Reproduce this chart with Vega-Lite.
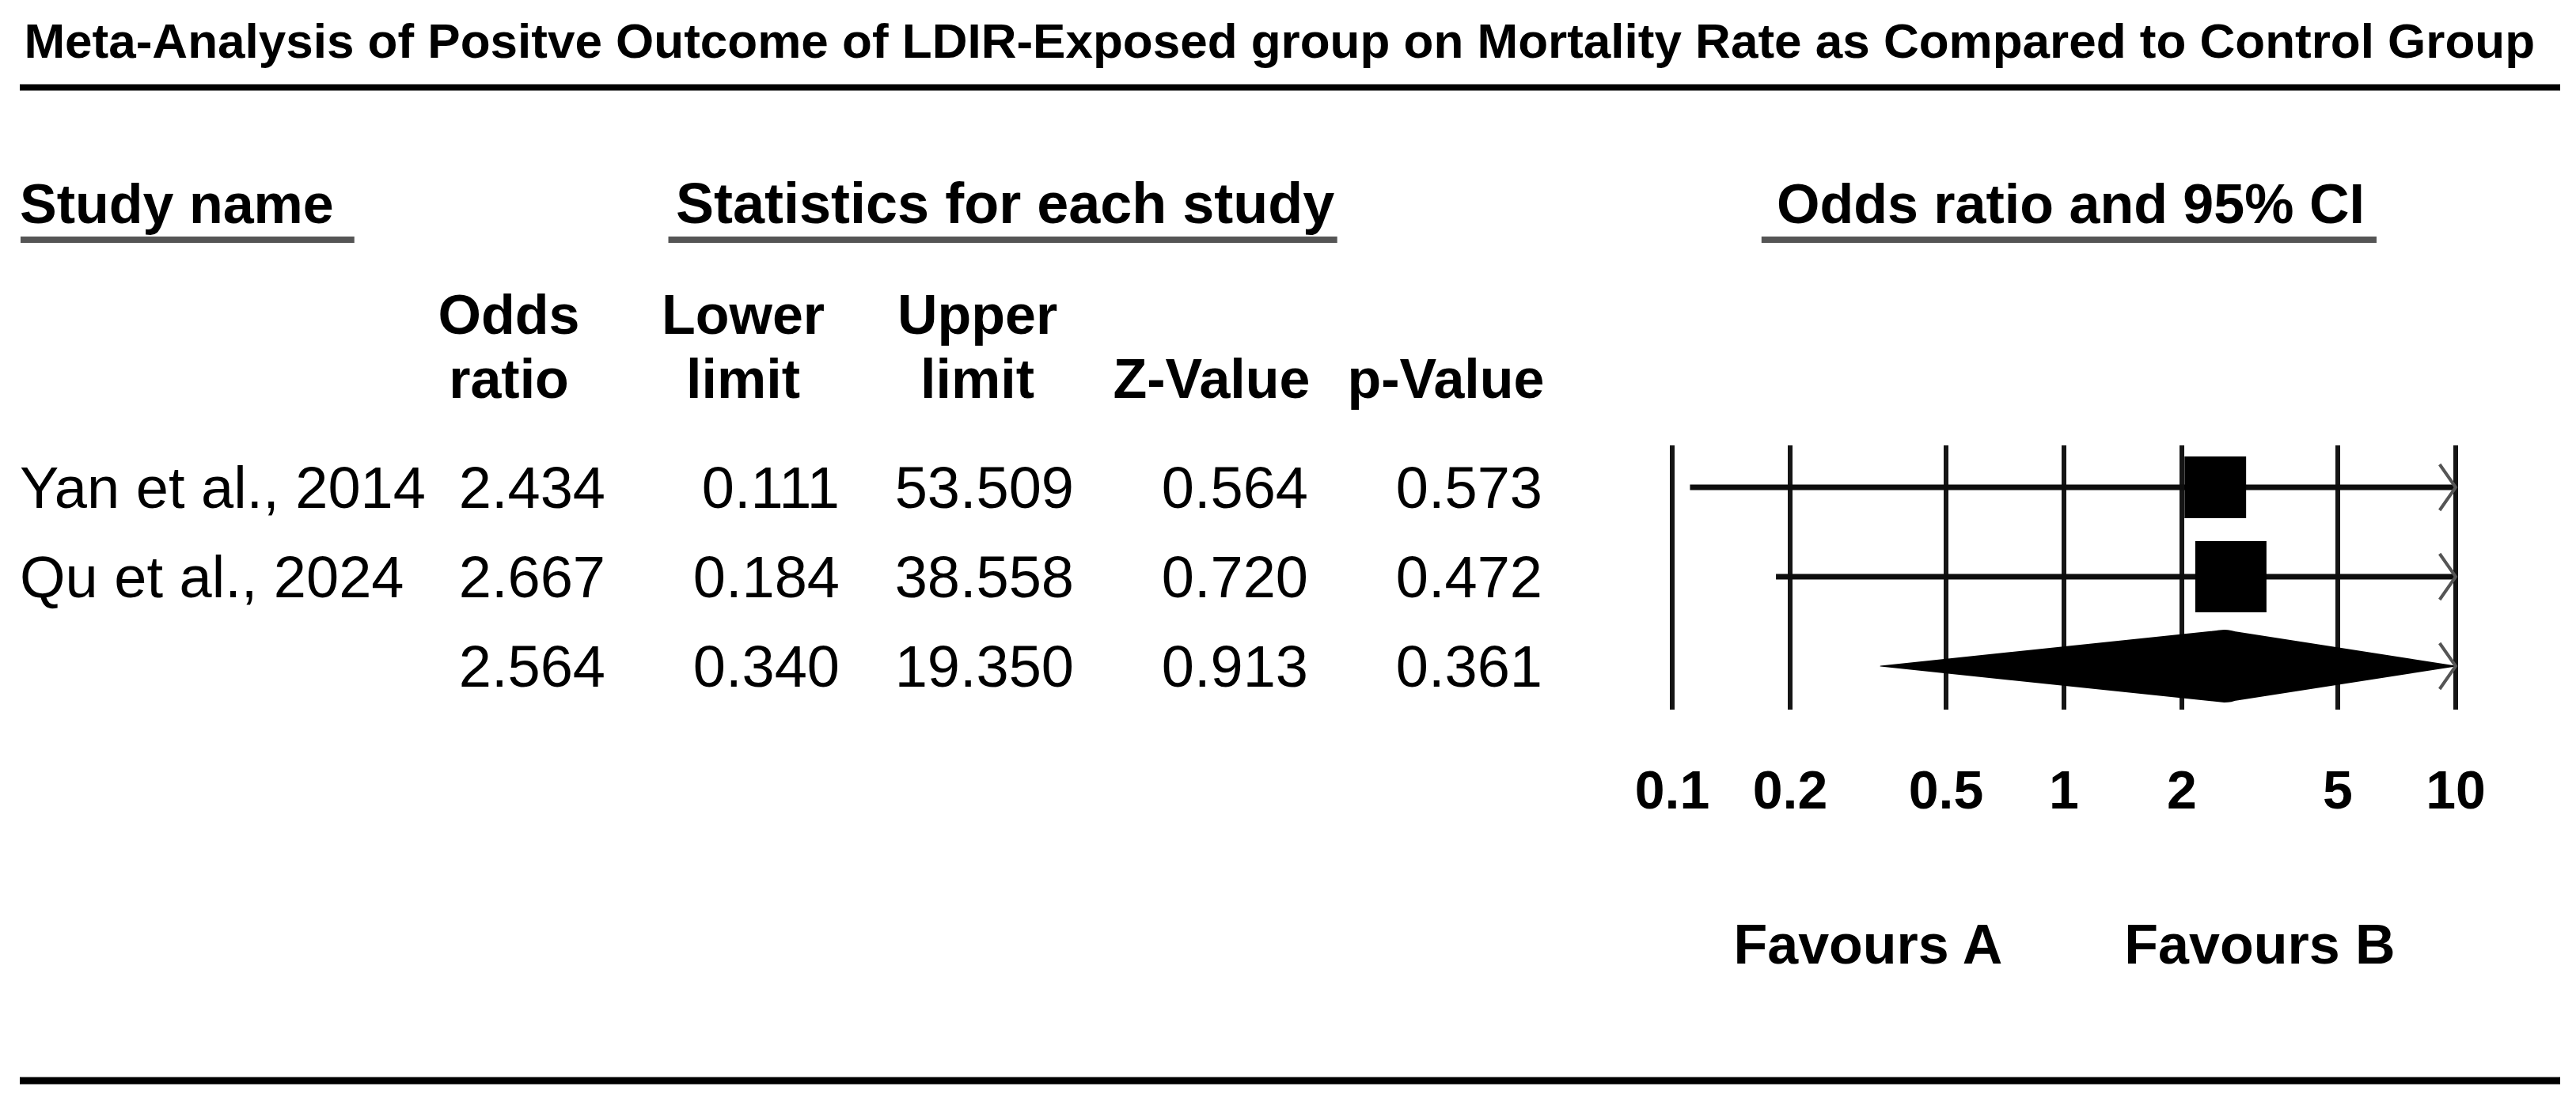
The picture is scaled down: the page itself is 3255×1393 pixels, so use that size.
{
  "$schema": "https://vega.github.io/schema/vega-lite/v6.json",
  "width": 3255,
  "height": 1393,
  "autosize": {"type": "fit", "contains": "padding"},
  "padding": {"left": 20, "right": 15, "top": 0, "bottom": 0},
  "background": "white",
  "config": {"view": {"stroke": null}, "text": {"font": "Liberation Sans", "color": "black"}},
  "datasets": {
    "studies": [
      {"study": "Yan et al., 2014", "row": 1, "type": "study", "or": 2.434, "lo": 0.111, "hi": 53.509, "z": 0.564, "p": 0.573, "weight": 42.8},
      {"study": "Qu et al., 2024", "row": 2, "type": "study", "or": 2.667, "lo": 0.184, "hi": 38.558, "z": 0.720, "p": 0.472, "weight": 57.2},
      {"study": "", "row": 3, "type": "overall", "or": 2.564, "lo": 0.340, "hi": 19.350, "z": 0.913, "p": 0.361}
    ],
    "ticks": [{"v": 0.1}, {"v": 0.2}, {"v": 0.5}, {"v": 1}, {"v": 2}, {"v": 5}, {"v": 10}],
    "headers": [
      {"col": "or", "l1": "Odds", "l2": "ratio"},
      {"col": "lo", "l1": "Lower", "l2": "limit"},
      {"col": "hi", "l1": "Upper", "l2": "limit"},
      {"col": "z", "l1": "", "l2": "Z-Value"},
      {"col": "p", "l1": "", "l2": "p-Value"}
    ]
  },
  "resolve": {"scale": {"x": "independent"}},
  "layer": [
    {
      "layer": [
        {
          "data": {"values": [{"t": "Meta-Analysis of Positve Outcome of LDIR-Exposed group on Mortality Rate as Compared to Control Group"}]},
          "mark": {"type": "text", "font": "Liberation Sans", "fontWeight": "bold", "fontSize": 62, "align": "left", "baseline": "alphabetic", "color": "black"},
          "encoding": {
            "x": {"datum": 0.17, "type": "quantitative", "scale": {"domain": [0, 100], "nice": false, "zero": false}, "axis": null},
            "y": {"datum": -3.805, "type": "quantitative", "scale": {"domain": [1, 3], "range": [616, 842], "nice": false, "zero": false}, "axis": null},
            "text": {"field": "t"}
          }
        },
        {
          "data": {"values": [{}]},
          "mark": {"type": "rule", "color": "black", "strokeWidth": 8},
          "encoding": {
            "y": {"datum": -3.473, "type": "quantitative", "scale": {"domain": [1, 3], "range": [616, 842], "nice": false, "zero": false}, "axis": null}
          }
        },
        {
          "data": {"values": [{"t": "Study name"}]},
          "mark": {"type": "text", "font": "Liberation Sans", "fontWeight": "bold", "fontSize": 70, "align": "left", "baseline": "alphabetic", "color": "black"},
          "encoding": {
            "x": {"datum": 0, "type": "quantitative", "scale": {"domain": [0, 100], "nice": false, "zero": false}, "axis": null},
            "y": {"datum": -1.956, "type": "quantitative", "scale": {"domain": [1, 3], "range": [616, 842], "nice": false, "zero": false}, "axis": null},
            "text": {"field": "t"}
          }
        },
        {
          "data": {"values": [{}]},
          "mark": {"type": "rule", "color": "#555555", "strokeWidth": 8},
          "encoding": {
            "x": {"datum": 0.03, "type": "quantitative", "scale": {"domain": [0, 100], "nice": false, "zero": false}, "axis": null},
            "x2": {"datum": 13.17},
            "y": {"datum": -1.77, "type": "quantitative", "scale": {"domain": [1, 3], "range": [616, 842], "nice": false, "zero": false}, "axis": null}
          }
        },
        {
          "data": {"values": [{"t": "Statistics for each study"}]},
          "mark": {"type": "text", "font": "Liberation Sans", "fontWeight": "bold", "fontSize": 72, "align": "center", "baseline": "alphabetic", "color": "black"},
          "encoding": {
            "x": {"datum": 38.79, "type": "quantitative", "scale": {"domain": [0, 100], "nice": false, "zero": false}, "axis": null},
            "y": {"datum": -1.956, "type": "quantitative", "scale": {"domain": [1, 3], "range": [616, 842], "nice": false, "zero": false}, "axis": null},
            "text": {"field": "t"}
          }
        },
        {
          "data": {"values": [{}]},
          "mark": {"type": "rule", "color": "#555555", "strokeWidth": 8},
          "encoding": {
            "x": {"datum": 25.53, "type": "quantitative", "scale": {"domain": [0, 100], "nice": false, "zero": false}, "axis": null},
            "x2": {"datum": 51.86},
            "y": {"datum": -1.77, "type": "quantitative", "scale": {"domain": [1, 3], "range": [616, 842], "nice": false, "zero": false}, "axis": null}
          }
        },
        {
          "data": {"name": "studies"},
          "mark": {"type": "text", "font": "Liberation Sans", "fontSize": 74, "align": "left", "baseline": "middle", "dy": 4, "color": "black"},
          "encoding": {
            "x": {"datum": 0, "type": "quantitative", "scale": {"domain": [0, 100], "nice": false, "zero": false}, "axis": null},
            "y": {"field": "row", "type": "quantitative", "scale": {"domain": [1, 3], "range": [616, 842], "nice": false, "zero": false}, "axis": null},
            "text": {"field": "study"}
          }
        },
        {
          "data": {"values": [{}]},
          "mark": {"type": "rule", "color": "black", "strokeWidth": 9},
          "encoding": {
            "y": {"datum": 7.637, "type": "quantitative", "scale": {"domain": [1, 3], "range": [616, 842], "nice": false, "zero": false}, "axis": null}
          }
        }
      ]
    },
    {
      "layer": [
        {
          "data": {"name": "studies"},
          "transform": [{"fold": ["or", "lo", "hi", "z", "p"], "as": ["col", "val"]}],
          "mark": {"type": "text", "font": "Liberation Sans", "fontSize": 74, "align": "right", "baseline": "middle", "dy": 4, "color": "black"},
          "encoding": {
            "x": {"field": "col", "type": "nominal", "scale": {"type": "point", "domain": ["or", "lo", "hi", "z", "p"], "range": [740, 1924], "padding": 0}, "axis": null},
            "y": {"field": "row", "type": "quantitative", "scale": {"domain": [1, 3], "range": [616, 842], "nice": false, "zero": false}, "axis": null},
            "text": {"field": "val", "type": "quantitative", "format": ".3f"}
          }
        },
        {
          "data": {"name": "headers"},
          "mark": {"type": "text", "font": "Liberation Sans", "fontWeight": "bold", "fontSize": 70, "align": "center", "baseline": "alphabetic", "dx": -122, "color": "black"},
          "encoding": {
            "x": {"field": "col", "type": "nominal", "scale": {"type": "point", "domain": ["or", "lo", "hi", "z", "p"], "range": [740, 1924], "padding": 0}, "axis": null},
            "y": {"datum": -0.717, "type": "quantitative", "scale": {"domain": [1, 3], "range": [616, 842], "nice": false, "zero": false}, "axis": null},
            "text": {"field": "l1"}
          }
        },
        {
          "data": {"name": "headers"},
          "mark": {"type": "text", "font": "Liberation Sans", "fontWeight": "bold", "fontSize": 70, "align": "center", "baseline": "alphabetic", "dx": -122, "color": "black"},
          "encoding": {
            "x": {"field": "col", "type": "nominal", "scale": {"type": "point", "domain": ["or", "lo", "hi", "z", "p"], "range": [740, 1924], "padding": 0}, "axis": null},
            "y": {"datum": 0, "type": "quantitative", "scale": {"domain": [1, 3], "range": [616, 842], "nice": false, "zero": false}, "axis": null},
            "text": {"field": "l2"}
          }
        }
      ]
    },
    {
      "layer": [
        {
          "data": {"name": "ticks"},
          "mark": {"type": "rule", "color": "#151515", "strokeWidth": 6},
          "encoding": {
            "x": {"field": "v", "type": "quantitative", "scale": {"type": "log", "domain": [0.1, 10], "range": [2088, 3078], "clamp": true, "nice": false}, "axis": null},
            "y": {"datum": 0.531, "type": "quantitative", "scale": {"domain": [1, 3], "range": [616, 842], "nice": false, "zero": false}, "axis": null},
            "y2": {"datum": 3.487}
          }
        },
        {
          "data": {"name": "ticks"},
          "mark": {"type": "text", "font": "Liberation Sans", "fontWeight": "bold", "fontSize": 68, "align": "center", "baseline": "alphabetic", "color": "black"},
          "encoding": {
            "x": {"field": "v", "type": "quantitative", "scale": {"type": "log", "domain": [0.1, 10], "range": [2088, 3078], "clamp": true, "nice": false}, "axis": null},
            "y": {"datum": 4.593, "type": "quantitative", "scale": {"domain": [1, 3], "range": [616, 842], "nice": false, "zero": false}, "axis": null},
            "text": {"field": "v", "type": "quantitative", "format": "~g"}
          }
        },
        {
          "data": {"name": "studies"},
          "transform": [{"filter": "datum.type === 'study'"}],
          "mark": {"type": "rule", "color": "#0d0d0d", "strokeWidth": 7},
          "encoding": {
            "x": {"field": "lo", "type": "quantitative", "scale": {"type": "log", "domain": [0.1, 10], "range": [2088, 3078], "clamp": true, "nice": false}, "axis": null},
            "x2": {"field": "hi"},
            "y": {"field": "row", "type": "quantitative", "scale": {"domain": [1, 3], "range": [616, 842], "nice": false, "zero": false}, "axis": null}
          }
        },
        {
          "data": {"name": "studies"},
          "transform": [{"filter": "datum.type === 'study'"}],
          "mark": {"type": "point", "shape": "square", "filled": true, "color": "black", "opacity": 1},
          "encoding": {
            "x": {"field": "or", "type": "quantitative", "scale": {"type": "log", "domain": [0.1, 10], "range": [2088, 3078], "clamp": true, "nice": false}, "axis": null},
            "y": {"field": "row", "type": "quantitative", "scale": {"domain": [1, 3], "range": [616, 842], "nice": false, "zero": false}, "axis": null},
            "size": {"field": "weight", "type": "quantitative", "scale": {"domain": [0, 100], "range": [0, 14160]}, "legend": null}
          }
        },
        {
          "data": {"name": "studies"},
          "transform": [
            {"filter": "datum.type === 'overall'"},
            {"fold": ["lo", "or", "hi"], "as": ["k", "v"]}
          ],
          "mark": {"type": "trail", "color": "black"},
          "encoding": {
            "x": {"field": "v", "type": "quantitative", "scale": {"type": "log", "domain": [0.1, 10], "range": [2088, 3078], "clamp": true, "nice": false}, "axis": null},
            "y": {"field": "row", "type": "quantitative", "scale": {"domain": [1, 3], "range": [616, 842], "nice": false, "zero": false}, "axis": null},
            "size": {"condition": {"test": "datum.k === 'or'", "value": 92}, "value": 0}
          }
        },
        {
          "data": {"name": "studies"},
          "transform": [{"filter": "datum.hi > 10"}],
          "mark": {"type": "point", "shape": "M-0.7,-1L0,0L-0.7,1", "filled": false, "color": "#555555", "strokeWidth": 4, "size": 3364, "opacity": 1},
          "encoding": {
            "x": {"field": "hi", "type": "quantitative", "scale": {"type": "log", "domain": [0.1, 10], "range": [2088, 3078], "clamp": true, "nice": false}, "axis": null},
            "y": {"field": "row", "type": "quantitative", "scale": {"domain": [1, 3], "range": [616, 842], "nice": false, "zero": false}, "axis": null}
          }
        },
        {
          "data": {"values": [{"t": "Odds ratio and 95% CI"}]},
          "mark": {"type": "text", "font": "Liberation Sans", "fontWeight": "bold", "fontSize": 70, "align": "center", "baseline": "alphabetic", "color": "black"},
          "encoding": {
            "x": {"datum": 1.04, "type": "quantitative", "scale": {"type": "log", "domain": [0.1, 10], "range": [2088, 3078], "clamp": true, "nice": false}, "axis": null},
            "y": {"datum": -1.956, "type": "quantitative", "scale": {"domain": [1, 3], "range": [616, 842], "nice": false, "zero": false}, "axis": null},
            "text": {"field": "t"}
          }
        },
        {
          "data": {"values": [{}]},
          "mark": {"type": "rule", "color": "#555555", "strokeWidth": 8},
          "encoding": {
            "x": {"datum": 0.169, "type": "quantitative", "scale": {"type": "log", "domain": [0.1, 10], "range": [2088, 3078], "clamp": true, "nice": false}, "axis": null},
            "x2": {"datum": 6.28},
            "y": {"datum": -1.77, "type": "quantitative", "scale": {"domain": [1, 3], "range": [616, 842], "nice": false, "zero": false}, "axis": null}
          }
        },
        {
          "data": {"values": [{"t": "Favours A", "at": 0.316}, {"t": "Favours B", "at": 3.162}]},
          "mark": {"type": "text", "font": "Liberation Sans", "fontWeight": "bold", "fontSize": 70, "align": "center", "baseline": "alphabetic", "color": "black"},
          "encoding": {
            "x": {"field": "at", "type": "quantitative", "scale": {"type": "log", "domain": [0.1, 10], "range": [2088, 3078], "clamp": true, "nice": false}, "axis": null},
            "y": {"datum": 6.327, "type": "quantitative", "scale": {"domain": [1, 3], "range": [616, 842], "nice": false, "zero": false}, "axis": null},
            "text": {"field": "t"}
          }
        }
      ]
    }
  ]
}
